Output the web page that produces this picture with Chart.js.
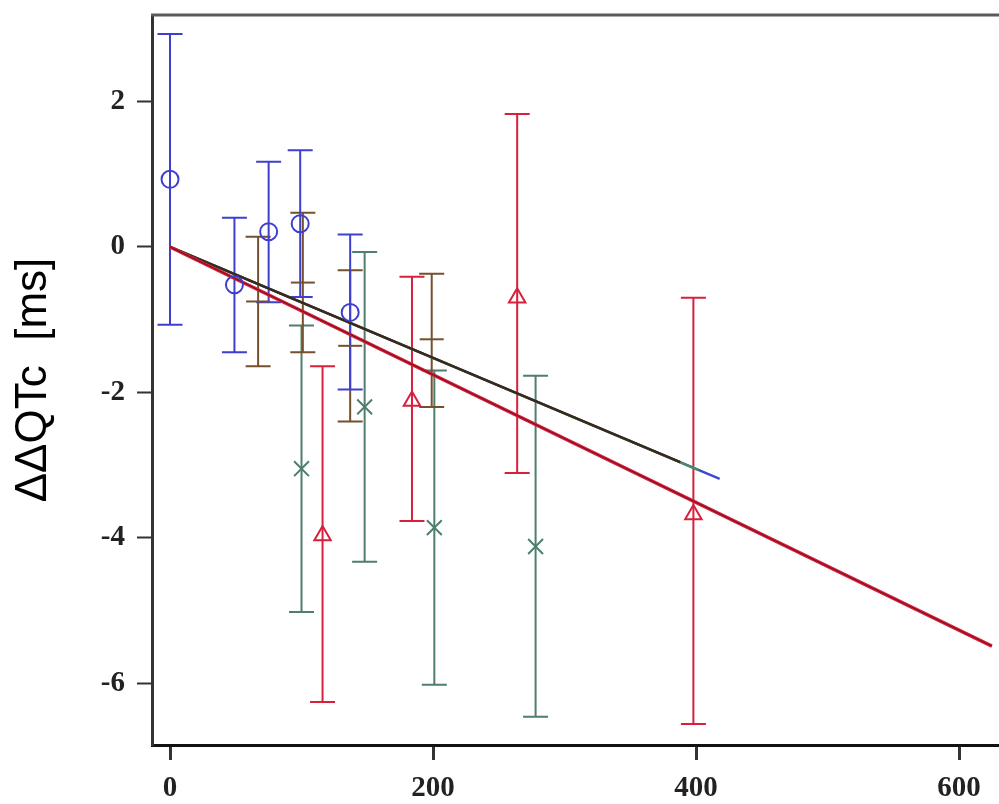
<!DOCTYPE html>
<html><head><meta charset="utf-8">
<script src="https://cdn.jsdelivr.net/npm/chart.js@4.4.1/dist/chart.umd.min.js"></script>
<style>html,body{margin:0;padding:0;background:#fff;overflow:hidden}canvas{display:block}</style>
</head><body>
<canvas id="c" width="999" height="804"></canvas>
<script>
// ---- data ----
const xTicks = [0, 200, 400, 600];
const yTicks = [-6, -4, -2, 0, 2];
const yTitle = 'ΔΔQTc  [ms]';

const blueX  = [0, 49, 75, 99, 137];
const blueY  = [0.93, -0.52, 0.21, 0.32, -0.90];
const blueLo = [-1.07, -1.45, -0.76, -0.69, -1.96];
const blueHi = [2.93, 0.40, 1.17, 1.33, 0.17];

const brownX  = [67, 101, 137, 199];
const brownY  = [-0.75, -0.49, -1.36, -1.27];
const brownLo = [-1.64, -1.45, -2.40, -2.20];
const brownHi = [0.14, 0.47, -0.32, -0.37];

const greenX  = [100, 148, 201, 278];
const greenY  = [-3.05, -2.20, -3.86, -4.12];
const greenLo = [-5.02, -4.33, -6.02, -6.46];
const greenHi = [-1.08, -0.07, -1.70, -1.77];

const redX  = [116, 184, 264, 398];
const redY  = [-3.97, -2.12, -0.70, -3.68];
const redLo = [-6.26, -3.77, -3.11, -6.56];
const redHi = [-1.64, -0.41, 1.83, -0.70];

// fitted lines (end points)
const redFitX = [0, 625];   const redFitY = [0, -5.49];
const blueFitX = [0, 418];  const blueFitY = [0, -3.19];
const greenFitX = [0, 402]; const greenFitY = [0, -3.07];
const brownFitX = [0, 388]; const brownFitY = [0, -2.96];

// ---- styles ----
const C_BLUE = '#3f3fcf', C_RED = '#d8203c', C_GREEN = '#4f7d6e', C_BROWN = '#74502e';

const pts = (xs, ys) => xs.map((v, i) => ({x: v, y: ys[i]}));

const errSeries = [
  {x: greenX, lo: greenLo, hi: greenHi, color: C_GREEN},
  {x: brownX, lo: brownLo, hi: brownHi, color: C_BROWN},
  {x: redX, lo: redLo, hi: redHi, color: C_RED},
  {x: blueX, lo: blueLo, hi: blueHi, color: C_BLUE},
];

const errorBars = {
  id: 'errorBars',
  beforeDatasetsDraw(chart) {
    const {ctx, scales: {x, y}} = chart;
    ctx.save();
    ctx.lineWidth = 2;
    for (const s of errSeries) {
      ctx.strokeStyle = s.color;
      s.x.forEach((xv, i) => {
        const px = x.getPixelForValue(xv);
        const lo = y.getPixelForValue(s.lo[i]);
        const hi = y.getPixelForValue(s.hi[i]);
        ctx.beginPath();
        ctx.moveTo(px, lo); ctx.lineTo(px, hi);
        ctx.moveTo(px - 12.5, lo); ctx.lineTo(px + 12.5, lo);
        ctx.moveTo(px - 12.5, hi); ctx.lineTo(px + 12.5, hi);
        ctx.stroke();
      });
    }
    ctx.restore();
  }
};

const topBorder = {
  id: 'topBorder',
  afterDraw(chart) {
    const {ctx, chartArea: a} = chart;
    ctx.save();
    ctx.strokeStyle = '#5a5a5a';
    ctx.lineWidth = 3;
    ctx.beginPath();
    ctx.moveTo(a.left - 1, a.top);
    ctx.lineTo(chart.width, a.top);
    ctx.stroke();
    ctx.restore();
  }
};

const lineDs = (xs, ys, color, w, order) => ({
  type: 'line', data: pts(xs, ys), borderColor: color, borderWidth: w,
  pointRadius: 0, fill: false, order, tension: 0
});

new Chart(document.getElementById('c'), {
  type: 'scatter',
  data: {
    datasets: [
      {data: pts(blueX, blueY), pointStyle: 'circle', pointRadius: 8.5, borderColor: C_BLUE,
       backgroundColor: 'rgba(0,0,0,0)', borderWidth: 2, order: 1},
      {data: pts(redX, redY), pointStyle: 'triangle', pointRadius: 9.5, borderColor: C_RED,
       backgroundColor: 'rgba(0,0,0,0)', borderWidth: 2, order: 2},
      {data: pts(greenX, greenY), pointStyle: 'crossRot', pointRadius: 10.5, borderColor: C_GREEN,
       backgroundColor: C_GREEN, borderWidth: 2, order: 3},
      {data: pts(brownX, brownY), pointStyle: 'line', pointRadius: 12, borderColor: C_BROWN,
       backgroundColor: C_BROWN, borderWidth: 2, order: 4},
      lineDs(redFitX, redFitY, '#5a0a14', 0.8, 9),
      lineDs(redFitX, redFitY, '#d41e38', 3.4, 10),
      lineDs(brownFitX, brownFitY, '#3a2818', 2.4, 11),
      lineDs(greenFitX, greenFitY, '#4f8a5a', 2.4, 12),
      lineDs(blueFitX, blueFitY, '#3a4ad0', 2.4, 13),
    ]
  },
  options: {
    responsive: false,
    animation: false,
    devicePixelRatio: 1,
    layout: {autoPadding: false, padding: {top: 15, left: 0, right: 0, bottom: 0}},
    plugins: {legend: {display: false}, tooltip: {enabled: false}},
    scales: {
      x: {
        type: 'linear', min: -13.7, max: 630.4,
        afterBuildTicks: ax => { ax.ticks = xTicks.map(v => ({value: v})); },
        afterFit: ax => { ax.height = 59; ax.paddingLeft = 0; ax.paddingRight = 0; },
        grid: {display: true, drawOnChartArea: false, drawTicks: true, tickLength: 15,
               tickColor: '#333', tickWidth: 3},
        border: {display: true, color: '#111', width: 3},
        ticks: {color: '#222', padding: 11, maxRotation: 0,
                font: {family: 'Liberation Serif', size: 29, weight: 'bold'}}
      },
      y: {
        type: 'linear', min: -6.85, max: 3.19,
        afterBuildTicks: ax => { ax.ticks = yTicks.map(v => ({value: v})); },
        afterFit: ax => { ax.width = 152; ax.paddingTop = 0; ax.paddingBottom = 0; },
        grid: {display: true, drawOnChartArea: false, drawTicks: true, tickLength: 15,
               tickColor: '#333', tickWidth: 2},
        border: {display: true, color: '#333', width: 3},
        ticks: {color: '#222', padding: 12,
                font: {family: 'Liberation Serif', size: 29, weight: 'bold'}},
        title: {display: true, text: yTitle, color: '#000',
                font: {family: 'Liberation Sans', size: 44, weight: 'normal'},
                padding: {top: 7, bottom: 0}}
      }
    }
  },
  plugins: [errorBars, topBorder]
});
</script>
</body></html>
